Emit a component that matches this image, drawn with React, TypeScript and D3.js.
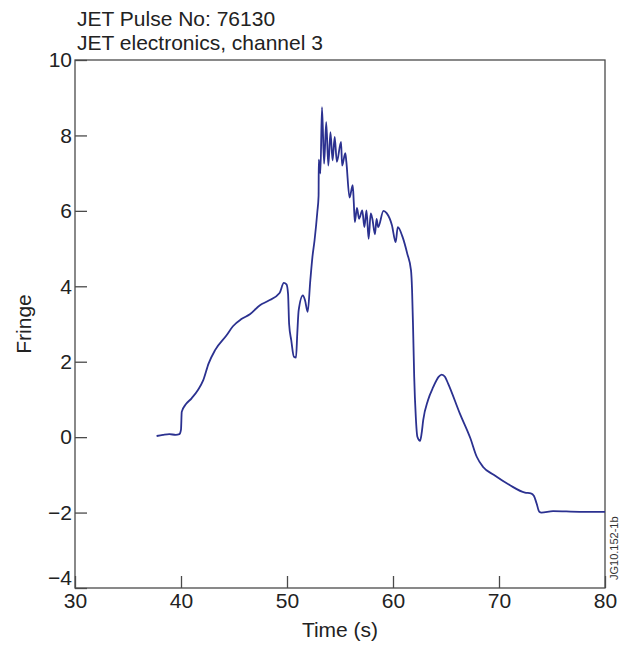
import React, { useEffect, useRef } from 'react';
import * as d3 from 'd3';

const titleLines = ['JET Pulse No: 76130', 'JET electronics, channel 3'];
const xTicks = [30, 40, 50, 60, 70, 80];
const yTicks = [-4, -2, 0, 2, 4, 6, 8, 10];

// time (s) and fringe
const times = [
	37.7, 38.3, 38.9, 39.5, 39.85, 40.0, 40.07, 40.4, 41.0, 41.6, 42.1, 42.6, 43.2, 44.3, 44.9,
	45.7, 46.5, 47.45, 48.2, 49.3, 49.7, 49.95, 50.1, 50.2, 50.4, 50.65, 50.85, 50.97, 51.1,
	51.5, 51.7, 51.95, 52.2, 52.4, 52.6, 52.86, 52.98, 53.0, 53.15, 53.3, 53.5, 53.7, 53.9,
	54.1, 54.3, 54.5, 54.7, 55.1, 55.2, 55.5, 55.6, 55.9, 56.2, 56.3, 56.4, 56.6, 56.8, 57.1,
	57.3, 57.5, 57.7, 57.9, 58.05, 58.3, 58.45, 58.6, 59.1, 59.4, 59.9, 60.25, 60.45, 60.9,
	61.35, 61.7, 61.8, 61.9, 62.0, 62.15, 62.3, 62.55, 62.7, 62.85, 63.3, 63.8, 64.3, 64.6,
	64.9, 65.2, 66.3, 67.3, 67.9, 68.5, 69.5, 71.0, 72.45, 73.0, 73.3, 73.55, 73.8, 74.0,
	75.1, 77.6, 80.0,
];
const fringe = [
	0.03, 0.06, 0.08, 0.06, 0.08, 0.2, 0.67, 0.85, 1.03, 1.25, 1.51, 1.95, 2.3, 2.7, 2.94,
	3.13, 3.26, 3.5, 3.61, 3.82, 4.09, 4.05, 3.8, 3.0, 2.57, 2.13, 2.11, 2.75, 3.36,
	3.76, 3.63, 3.32, 4.16, 4.78, 5.22, 5.97, 6.4, 7.36, 6.99, 8.75, 7.25, 8.35, 7.2,
	8.09, 7.34, 7.96, 7.3, 7.83, 7.2, 7.53, 7.3, 6.35, 6.68, 6.23, 5.7, 6.08, 5.79, 6.01,
	5.57, 6.01, 5.26, 5.93, 5.79, 5.38, 5.79, 5.57, 6.0, 5.94, 5.62, 5.17, 5.57, 5.31,
	4.86, 4.42, 3.89, 2.83, 1.6, 0.54, 0.01, -0.1, 0.1, 0.45, 0.98, 1.33, 1.6, 1.66,
	1.6, 1.42, 0.63, -0.03, -0.52, -0.79, -1.0, -1.27, -1.47, -1.49, -1.56, -1.76, -1.98, -2.0,
	-1.96, -1.98, -1.98,
];

const W = 626;
const H = 646;
const FONT = '"Liberation Sans", Arial, Helvetica, sans-serif';

export default function App() {
	const node = useRef<SVGSVGElement>(null);

	useEffect(() => {
		const svg = d3.select(node.current);
		svg.selectAll('*').remove();

		const margin = { top: 60, right: 21, bottom: 58, left: 75 };
		const width = W - margin.left - margin.right;
		const height = H - margin.top - margin.bottom;

		const x = d3.scaleLinear().domain([30, 80]).range([0, width]);
		const y = d3.scaleLinear().domain([-4, 10]).range([height, 0]);

		const canvas = svg.append('g')
			.attr('transform', `translate(${margin.left},${margin.top})`);

		// frame
		canvas.append('rect')
			.attr('width', width)
			.attr('height', height)
			.attr('fill', 'none')
			.attr('stroke', '#4a4a4a')
			.attr('stroke-width', 1.3);

		const fmt = (d: number) => (d < 0 ? `\u2212${Math.abs(d)}` : `${d}`);

		const xAxis = d3.axisBottom(x).tickValues(xTicks).tickSize(-12).tickFormat(fmt as any);
		const yAxis = d3.axisLeft(y).tickValues(yTicks).tickSize(-12).tickPadding(3).tickFormat(fmt as any);

		const gx = canvas.append('g').attr('transform', `translate(0,${height})`).call(xAxis);
		const gy = canvas.append('g').call(yAxis);

		[gx, gy].forEach((g) => {
			g.select('.domain').remove();
			g.selectAll('line').attr('stroke', '#4a4a4a').attr('stroke-width', 1.3);
			g.selectAll('text')
				.attr('fill', '#222')
				.style('font-family', FONT)
				.style('font-size', '21px');
		});
		gx.selectAll('text').attr('y', 20).attr('dy', 0);
		// bottom label sits above the corner, as in the original
		gy.selectAll('text').filter((d) => d === -4).attr('dy', '-0.15em');

		// trace
		const line = d3.line<number>()
			.x((d, i) => x(times[i]))
			.y((d) => y(d))
			.curve(d3.curveMonotoneX);

		canvas.append('path')
			.datum(fringe)
			.attr('d', line)
			.attr('fill', 'none')
			.attr('stroke', '#2b3190')
			.attr('stroke-width', 1.8)
			.attr('stroke-linejoin', 'round');

		// titles and labels
		titleLines.forEach((t, i) => {
			svg.append('text')
				.attr('x', 77)
				.attr('y', 26 + i * 24)
				.attr('fill', '#222')
				.style('font-family', FONT)
				.style('font-size', '21px')
				.text(t);
		});

		svg.append('text')
			.attr('x', margin.left + width / 2)
			.attr('y', 637)
			.attr('text-anchor', 'middle')
			.attr('fill', '#222')
			.style('font-family', FONT)
			.style('font-size', '21px')
			.text('Time (s)');

		svg.append('text')
			.attr('transform', `translate(31,${margin.top + height / 2}) rotate(-90)`)
			.attr('text-anchor', 'middle')
			.attr('fill', '#222')
			.style('font-family', FONT)
			.style('font-size', '21px')
			.text('Fringe');

		svg.append('text')
			.attr('transform', 'translate(618,580) rotate(-90)')
			.attr('fill', '#333')
			.style('font-family', FONT)
			.style('font-size', '11px')
			.text('JG10.152-1b');
	}, []);

	return (
		<svg
			ref={node}
			width={W}
			height={H}
			style={{ position: 'absolute', left: 0, top: 0, background: '#fff' }}
		/>
	);
}
